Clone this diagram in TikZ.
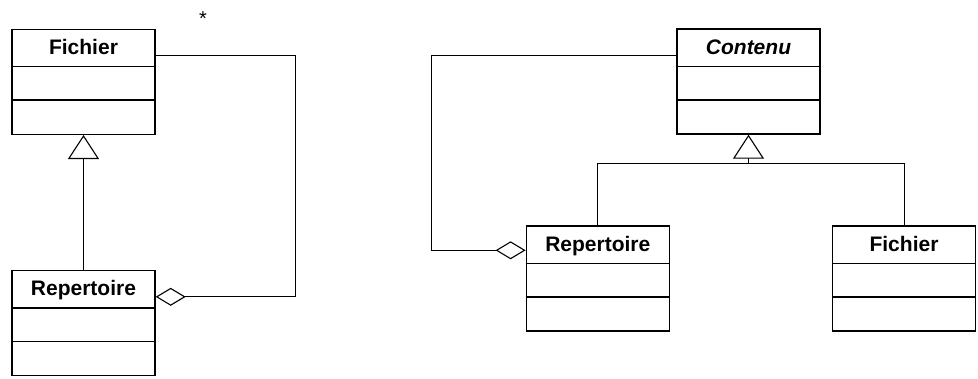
\documentclass[tikz,border=0pt]{standalone}
\usepackage{fontspec}
\setmainfont{Liberation Sans}
\usetikzlibrary{arrows.meta,calc}
\tikzset{
  classbox/.style={draw, line width=1.4pt, rectangle, minimum width=143pt, minimum height=105pt, inner sep=0pt, fill=white},
  classtitle/.style={font=\bfseries\fontsize{21}{24}\selectfont, inner sep=0pt, anchor=base},
  divider/.style={line width=1.4pt},
  conn/.style={line width=1pt},
  gen/.style={conn, -{Triangle[open, length=24pt, width=31pt, line width=1.1pt]}},
  agg/.style={conn, {Diamond[open, length=30pt, width=18pt, line width=1.1pt]}-},
}
\newcommand{\umlclass}[4]{%
  \node[classbox] (#1) at (#2,#3) {};
  \node[classtitle] (#1t) at ($(#1.north)+(0,26)$) {#4};
  \draw[divider] ($(#1.north west)+(0,38)$) -- ($(#1.north east)+(0,38)$);
  \draw[divider] ($(#1.north west)+(0,71.5)$) -- ($(#1.north east)+(0,71.5)$);
}
\begin{document}
\begin{tikzpicture}[x=1pt,y=-1pt]
\useasboundingbox (0,0) rectangle (978,378);
% left diagram
\umlclass{f1}{83.5}{81.8}{Fichier}
\umlclass{r1}{83.5}{323}{Repertoire}
\draw[gen] (r1.north) -- (f1.south);
\draw[agg] ($(r1.north east)+(0,27)$) -- ++(140,0) coordinate (c1) |- ($(f1.north east)+(0,27)$);
\node[font=\fontsize{20}{24}\selectfont, inner sep=0pt, anchor=base] (star) at (203,25) {*};
% right diagram
\umlclass{c}{748.5}{81.5}{\textit{Contenu}}
\umlclass{r2}{597.8}{278.5}{Repertoire}
\umlclass{f2}{904}{278.5}{Fichier}
\coordinate (jn) at (748.5,163.5);
\draw[gen] (jn) -- (c.south);
\draw[conn] (jn) -| (r2.north);
\draw[conn] (jn) -| (f2.north);
\draw[agg] ($(r2.north west)+(0,25)$) -- ++(-94,0) coordinate (c2) |- ($(c.north west)+(0,27)$);
\end{tikzpicture}
\end{document}
